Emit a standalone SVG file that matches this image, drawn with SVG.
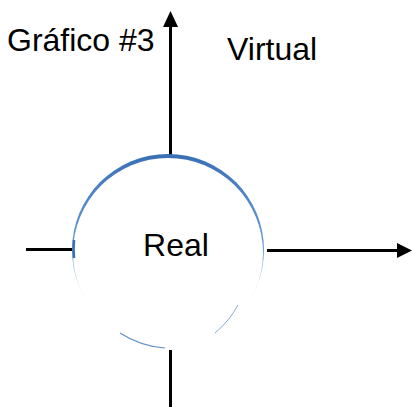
<svg xmlns="http://www.w3.org/2000/svg" width="412" height="407" viewBox="0 0 412 407">
<style>
.ln{stroke:#000;stroke-width:3;fill:none}
.t{font-family:"Liberation Sans",Arial,sans-serif;font-size:32px;fill:#000}
</style>
<defs>
<linearGradient id="bg" x1="0" y1="0" x2="0" y2="1">
<stop offset="0" stop-color="#3a6fb5"/>
<stop offset="0.5" stop-color="#6a9fd8"/>
<stop offset="1" stop-color="#ffffff"/>
</linearGradient>
</defs>
<rect width="412" height="407" fill="#fff"/>
<g id="connectors">
<line class="ln" x1="170.5" y1="25" x2="170.5" y2="156"/>
<polygon points="170.5,11 163,27 178,27" fill="#000"/>
<line class="ln" x1="26" y1="249.5" x2="75" y2="249.5"/>
<line class="ln" x1="267" y1="250.5" x2="399" y2="250.5"/>
<polygon points="412,250.5 397,243 397,258" fill="#000"/>
<line class="ln" x1="170.5" y1="350" x2="170.5" y2="407"/>
</g>
<g id="circle">
<circle cx="168" cy="250" r="96" fill="url(#bg)"/>
<circle cx="168" cy="253" r="95" fill="#fff"/>
<path d="M120,333 A95,95 0 0 0 165,348" fill="none" stroke="#3a6fb5" stroke-width="1.2" opacity="0.8"/>
<path d="M215,333 A95,95 0 0 0 238,305" fill="none" stroke="#3a6fb5" stroke-width="1" opacity="0.6"/>
<path d="M74,240 A95,95 0 0 0 74,258" fill="none" stroke="#3a6fb5" stroke-width="2.5"/>
<text class="t" x="176" y="256" text-anchor="middle">Real</text>
</g>
<g id="labels">
<text class="t" x="7" y="51">Gráfico #3</text>
<text class="t" x="227" y="60">Virtual</text>
</g>
</svg>
